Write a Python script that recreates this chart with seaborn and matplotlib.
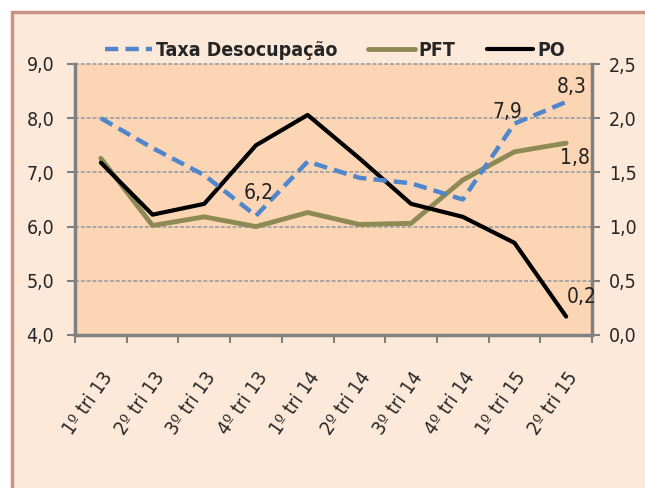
import matplotlib
matplotlib.use("Agg")
import matplotlib.pyplot as plt
import matplotlib.patches as mpatches
from matplotlib.lines import Line2D
import seaborn as sns
import pandas as pd

categories = ["1º tri 13", "2º tri 13", "3º tri 13", "4º tri 13", "1º tri 14",
              "2º tri 14", "3º tri 14", "4º tri 14", "1º tri 15", "2º tri 15"]
taxa = [8.0, 7.45, 6.95, 6.2, 7.2, 6.9, 6.8, 6.5, 7.9, 8.3]
pft = [1.63, 1.01, 1.09, 1.0, 1.13, 1.02, 1.03, 1.43, 1.69, 1.77]
po = [1.59, 1.11, 1.21, 1.75, 2.03, 1.63, 1.21, 1.09, 0.85, 0.17]
left_ticks = [4.0, 5.0, 6.0, 7.0, 8.0, 9.0]
right_ticks = [0.0, 0.5, 1.0, 1.5, 2.0, 2.5]

sns.set_theme(style="white")
plt.rcParams["font.family"] = ["DejaVu Sans"]
plt.rcParams["font.stretch"] = "condensed"

df = pd.DataFrame({"cat": categories, "taxa": taxa, "pft": pft, "po": po})
df["x"] = range(len(df))

fig = plt.figure(figsize=(6.45, 4.88), dpi=100, facecolor="white")
bg = mpatches.Rectangle((12 / 645, -0.05), 1.1, 1 - 12 / 488 + 0.05, transform=fig.transFigure,
                        facecolor="#FDE9D9", edgecolor="#C99383", lw=2.5, zorder=-5)
fig.patches.append(bg)

ax2 = fig.add_axes([75 / 645, 1 - 335 / 488, (592 - 75) / 645, (335 - 64) / 488])
ax2.set_facecolor("#FCD5B4")
ax = ax2.twinx()
ax.yaxis.set_label_position("left")
ax.yaxis.tick_left()
ax2.yaxis.set_label_position("right")
ax2.yaxis.tick_right()

blue = "#4F86CC"
olive = "#8E8A55"

for v in right_ticks[1:]:
    ax2.axhline(v, color="#A6A6A6", lw=1.4, ls=(0, (2, 1)), zorder=0, clip_on=False)

sns.lineplot(data=df, x="x", y="pft", ax=ax2, color=olive, lw=3.5)
sns.lineplot(data=df, x="x", y="po", ax=ax2, color="black", lw=3)
sns.lineplot(data=df, x="x", y="taxa", ax=ax, color=blue, lw=3.2)
ax.lines[-1].set_dashes([3, 1.6])

ax2.set_xlim(-0.5, len(categories) - 0.5)
ax.set_ylim(4.0, 9.0)
ax2.set_ylim(0.0, 2.5)
ax.set_yticks(left_ticks)
ax.set_yticklabels([f"{v:.1f}".replace(".", ",") for v in left_ticks])
ax2.set_yticks(right_ticks)
ax2.set_yticklabels([f"{v:.1f}".replace(".", ",") for v in right_ticks])
ax2.set_xticks([i - 0.5 for i in range(len(categories) + 1)], minor=False)
ax2.set_xticklabels([])
ax2.set_xticks(list(range(len(categories))), minor=True)
ax2.set_xticklabels(categories, minor=True, rotation=55, ha="right", rotation_mode="anchor", fontsize=14)
ax2.tick_params(axis="x", which="minor", length=0, pad=24)
ax2.tick_params(axis="x", which="major", length=6, width=1.5, color="#808080", direction="out", bottom=True)
ax.tick_params(axis="y", length=6, width=1.5, color="#808080", direction="out", labelsize=14, pad=9, left=True, right=False)
ax2.tick_params(axis="y", length=6, width=1.5, color="#808080", direction="out", labelsize=14, pad=6, right=True, left=False)
for a in (ax, ax2):
    a.set_xlabel("")
    a.set_ylabel("")
    for s in a.spines.values():
        s.set_visible(False)
for side in ("left", "bottom"):
    ax.spines[side].set_visible(True)
    ax.spines[side].set_color("#808080")
    ax.spines[side].set_linewidth(2.5)
ax2.spines["right"].set_visible(True)
ax2.spines["right"].set_color("#808080")
ax2.spines["right"].set_linewidth(2.5)

# data labels
tc = "#222222"
ax.text(3.05, 6.62, "6,2", fontsize=15, ha="center", va="center", color=tc)
ax.text(7.86, 8.12, "7,9", fontsize=15, ha="center", va="center", color=tc)
ax.text(9.1, 8.58, "8,3", fontsize=15, ha="center", va="center", color=tc)
ax2.text(9.17, 1.63, "1,8", fontsize=15, ha="center", va="center", color=tc)
ax2.text(9.3, 0.35, "0,2", fontsize=15, ha="center", va="center", color=tc)

handles = [Line2D([0], [0], color=blue, lw=3.2, dashes=[3, 1.6]),
           Line2D([0], [0], color=olive, lw=3.5),
           Line2D([0], [0], color="black", lw=3)]
leg = fig.legend(handles, ["Taxa Desocupação", "PFT", "PO"], loc="center",
                 bbox_to_anchor=(335 / 645, 1 - 50 / 488), ncol=3, frameon=False,
                 prop={"size": 14, "weight": "bold", "stretch": "condensed"},
                 handlelength=2.4, handletextpad=0.2, columnspacing=1.6)

fig.savefig("out.png", dpi=100, facecolor=fig.get_facecolor())
